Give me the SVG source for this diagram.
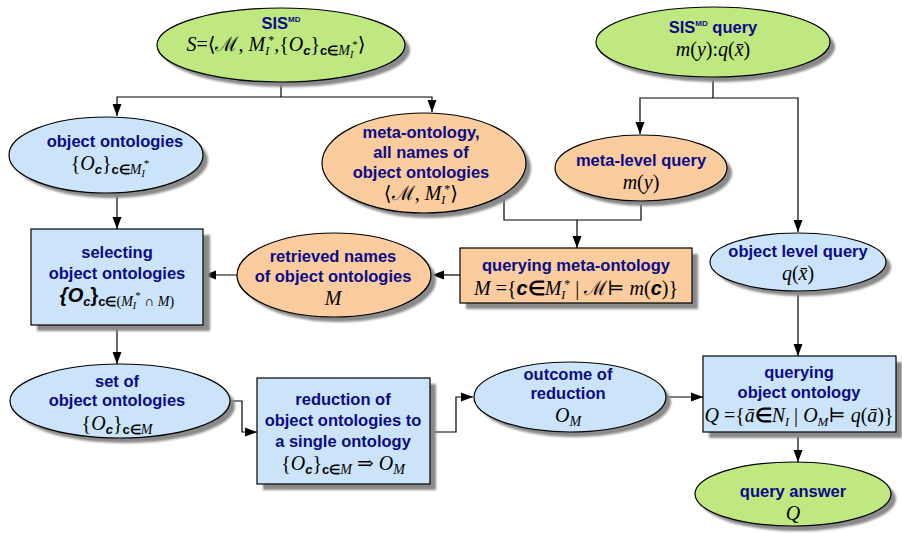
<svg xmlns="http://www.w3.org/2000/svg" width="902" height="533" viewBox="0 0 902 533">
<style>
.t{font-family:"Liberation Sans",Arial,sans-serif;font-weight:bold;font-size:16.5px;fill:#0b0b86;text-anchor:middle}
.m{font-family:"Liberation Serif","Times New Roman","DejaVu Serif",serif;font-style:italic;font-size:20px;fill:#000;text-anchor:middle}
.bs{font-family:"Liberation Sans",Arial,sans-serif;font-weight:bold}
.up{font-style:normal}
.g{fill:#bfe880;stroke:#000;stroke-width:1.2}
.b{fill:#cce4fa;stroke:#000;stroke-width:1.2}
.o{fill:#facc9e;stroke:#000;stroke-width:1.2}
.sh{fill:#8a8a8a;stroke:none}
.c{fill:none;stroke:#000;stroke-width:1.2}
</style>
<defs>
<marker id="ah" viewBox="0 0 12 10" refX="12" refY="5" markerWidth="12" markerHeight="10" markerUnits="userSpaceOnUse" orient="auto"><path d="M0,0.5 L12,5 L0,9.5 z" fill="#000"/></marker>
<filter id="bl" x="-10%" y="-10%" width="120%" height="120%"><feGaussianBlur stdDeviation="1"/></filter>
</defs>

<g id="connectors">
<path class="c" d="M281,83 V97"/>
<path class="c" d="M281,97 H117 V116" marker-end="url(#ah)"/>
<path class="c" d="M281,97 H432 V112" marker-end="url(#ah)"/>
<path class="c" d="M713,77 V98"/>
<path class="c" d="M713,98 H640 V134" marker-end="url(#ah)"/>
<path class="c" d="M713,98 H798 V232" marker-end="url(#ah)"/>
<path class="c" d="M117,193 V229" marker-end="url(#ah)"/>
<path class="c" d="M504,196 V220 H641 V201"/>
<path class="c" d="M577,220 V248" marker-end="url(#ah)"/>
<path class="c" d="M460,275 H432" marker-end="url(#ah)"/>
<path class="c" d="M237,275 H204" marker-end="url(#ah)"/>
<path class="c" d="M117,325 V364" marker-end="url(#ah)"/>
<path class="c" d="M229,401 H242 V432 H257" marker-end="url(#ah)"/>
<path class="c" d="M430,432 H456 V397 H473" marker-end="url(#ah)"/>
<path class="c" d="M666,397 H703" marker-end="url(#ah)"/>
<path class="c" d="M798,290 V356" marker-end="url(#ah)"/>
<path class="c" d="M798,432 V462" marker-end="url(#ah)"/>
</g>

<g id="sis">
<ellipse class="sh" cx="286" cy="50" rx="124" ry="37" filter="url(#bl)"/>
<ellipse class="g" cx="281" cy="45" rx="124" ry="37"/>
<text class="t" x="281" y="29" font-size="17">SIS<tspan font-size="8" baseline-shift="7">MD</tspan></text>
<text class="m" x="276" y="51">S<tspan class="up">=⟨</tspan><tspan class="up" font-family="DejaVu Serif">ℳ</tspan><tspan class="up">, </tspan>M<tspan font-size="12" baseline-shift="-4">I</tspan><tspan class="up" font-size="12" baseline-shift="7" dx="-1">*</tspan><tspan class="up">,{</tspan>O<tspan class="bs" font-size="13" baseline-shift="-4">c</tspan><tspan class="up">}</tspan><tspan class="bs up" font-size="13" baseline-shift="-4">c∈</tspan><tspan font-size="14" baseline-shift="-4">M</tspan><tspan font-size="10" baseline-shift="-7">I</tspan><tspan class="up" font-size="11" baseline-shift="3" dx="-1">*</tspan><tspan class="up">⟩</tspan></text>
</g>

<g id="sisquery">
<ellipse class="sh" cx="718" cy="47" rx="117" ry="35" filter="url(#bl)"/>
<ellipse class="g" cx="713" cy="42" rx="117" ry="35"/>
<text class="t" x="713" y="33" font-size="17">SIS<tspan font-size="8" baseline-shift="7">MD</tspan> query</text>
<text class="m" x="713" y="56">m<tspan class="up">(</tspan>y<tspan class="up">):</tspan>q<tspan class="up">(</tspan>x̄<tspan class="up">)</tspan></text>
</g>

<g id="objont">
<ellipse class="sh" cx="111" cy="160" rx="97" ry="38" filter="url(#bl)"/>
<ellipse class="b" cx="106" cy="155" rx="97" ry="38"/>
<text class="t" x="115" y="147">object ontologies</text>
<text class="m" x="110" y="170"><tspan class="up">{</tspan>O<tspan class="bs" font-size="13" baseline-shift="-4">c</tspan><tspan class="up">}</tspan><tspan class="bs up" font-size="13" baseline-shift="-4">c∈</tspan><tspan font-size="14" baseline-shift="-4">M</tspan><tspan font-size="10" baseline-shift="-7">I</tspan><tspan class="up" font-size="11" baseline-shift="3" dx="-1">*</tspan></text>
</g>

<g id="metaont">
<ellipse class="sh" cx="429" cy="168" rx="102" ry="50" filter="url(#bl)"/>
<ellipse class="o" cx="424" cy="163" rx="102" ry="50"/>
<text class="t" x="421" y="138">meta-ontology,</text>
<text class="t" x="421" y="158">all names of</text>
<text class="t" x="421" y="178">object ontologies</text>
<text class="m" x="421" y="200"><tspan class="up">⟨</tspan><tspan class="up" font-family="DejaVu Serif">ℳ</tspan><tspan class="up">, </tspan>M<tspan font-size="12" baseline-shift="-4">I</tspan><tspan class="up" font-size="12" baseline-shift="7" dx="-1">*</tspan><tspan class="up">⟩</tspan></text>
</g>

<g id="metaquery">
<ellipse class="sh" cx="646" cy="173" rx="86" ry="33" filter="url(#bl)"/>
<ellipse class="o" cx="641" cy="168" rx="86" ry="33"/>
<text class="t" x="641" y="166">meta-level query</text>
<text class="m" x="641" y="189">m<tspan class="up">(</tspan>y<tspan class="up">)</tspan></text>
</g>

<g id="selecting">
<rect class="sh" x="37" y="235" width="173" height="96" filter="url(#bl)"/>
<rect class="b" x="31" y="229" width="172" height="96"/>
<text class="t" x="117" y="258">selecting</text>
<text class="t" x="117" y="279">object ontologies</text>
<text class="m" x="117" y="302"><tspan class="bs">{O</tspan><tspan class="bs" font-size="13" baseline-shift="-4">c</tspan><tspan class="bs up">}</tspan><tspan class="bs up" font-size="13" baseline-shift="-4">c∈</tspan><tspan class="up" font-size="14" baseline-shift="-4">(</tspan><tspan font-size="14" baseline-shift="-4">M</tspan><tspan font-size="10" baseline-shift="-7">I</tspan><tspan class="up" font-size="11" baseline-shift="3" dx="-1">*</tspan><tspan class="up" font-size="14" baseline-shift="-4"> ∩ </tspan><tspan font-size="14" baseline-shift="-4">M</tspan><tspan class="up" font-size="14" baseline-shift="-4">)</tspan></text>
</g>

<g id="retrieved">
<ellipse class="sh" cx="339" cy="280" rx="97" ry="42" filter="url(#bl)"/>
<ellipse class="o" cx="334" cy="275" rx="97" ry="42"/>
<text class="t" x="333" y="262">retrieved names</text>
<text class="t" x="333" y="282">of object ontologies</text>
<text class="m" x="333" y="305">M</text>
</g>

<g id="querymeta">
<rect class="sh" x="466" y="254" width="232" height="55" filter="url(#bl)"/>
<rect class="o" x="460" y="248" width="232" height="55"/>
<text class="t" x="576" y="271">querying meta-ontology</text>
<text class="m" x="576" y="295">M<tspan class="up"> ={</tspan><tspan class="bs">c</tspan><tspan class="bs up">∈</tspan>M<tspan font-size="12" baseline-shift="-4">I</tspan><tspan class="up" font-size="12" baseline-shift="7" dx="-1">*</tspan><tspan class="up"> | </tspan><tspan class="up" font-family="DejaVu Serif">ℳ</tspan><tspan class="up">⊨ </tspan>m<tspan class="up">(</tspan><tspan class="bs">c</tspan><tspan class="up">)}</tspan></text>
</g>

<g id="objquery">
<ellipse class="sh" cx="803" cy="267" rx="88" ry="29" filter="url(#bl)"/>
<ellipse class="b" cx="798" cy="262" rx="88" ry="29"/>
<text class="t" x="798" y="257">object level query</text>
<text class="m" x="798" y="280">q<tspan class="up">(</tspan>x̄<tspan class="up">)</tspan></text>
</g>

<g id="setof">
<ellipse class="sh" cx="125" cy="406" rx="110" ry="37" filter="url(#bl)"/>
<ellipse class="b" cx="120" cy="401" rx="110" ry="37"/>
<text class="t" x="117" y="387">set of</text>
<text class="t" x="117" y="406">object ontologies</text>
<text class="m" x="117" y="430"><tspan class="up">{</tspan>O<tspan class="bs" font-size="13" baseline-shift="-4">c</tspan><tspan class="up">}</tspan><tspan class="bs up" font-size="13" baseline-shift="-4">c∈</tspan><tspan font-size="14" baseline-shift="-4">M</tspan></text>
</g>

<g id="reduction">
<rect class="sh" x="263" y="384" width="173" height="106" filter="url(#bl)"/>
<rect class="b" x="257" y="378" width="173" height="106"/>
<text class="t" x="343" y="405">reduction of</text>
<text class="t" x="343" y="426">object ontologies to</text>
<text class="t" x="343" y="447">a single ontology</text>
<text class="m" x="343" y="470"><tspan class="up">{</tspan>O<tspan class="bs" font-size="13" baseline-shift="-4">c</tspan><tspan class="up">}</tspan><tspan class="bs up" font-size="13" baseline-shift="-4">c∈</tspan><tspan font-size="14" baseline-shift="-4">M</tspan><tspan class="up"> ⇒ </tspan>O<tspan font-size="14" baseline-shift="-4">M</tspan></text>
</g>

<g id="outcome">
<ellipse class="sh" cx="575" cy="402" rx="96" ry="35" filter="url(#bl)"/>
<ellipse class="b" cx="570" cy="397" rx="96" ry="35"/>
<text class="t" x="568" y="380">outcome of</text>
<text class="t" x="568" y="399">reduction</text>
<text class="m" x="568" y="422">O<tspan font-size="14" baseline-shift="-4">M</tspan></text>
</g>

<g id="queryobj">
<rect class="sh" x="709" y="362" width="193" height="76" filter="url(#bl)"/>
<rect class="b" x="703" y="356" width="193" height="76"/>
<text class="t" x="799" y="378">querying</text>
<text class="t" x="799" y="398">object ontology</text>
<text class="m" x="799" y="422">Q<tspan class="up"> ={</tspan>ā<tspan class="bs up">∈</tspan>N<tspan font-size="12" baseline-shift="-4">I</tspan><tspan class="up"> | </tspan>O<tspan font-size="13" baseline-shift="-4">M</tspan><tspan class="up">⊨ </tspan>q<tspan class="up">(</tspan>ā<tspan class="up">)}</tspan></text>
</g>

<g id="answer">
<ellipse class="sh" cx="798" cy="499" rx="98" ry="32" filter="url(#bl)"/>
<ellipse class="g" cx="793" cy="494" rx="98" ry="32"/>
<text class="t" x="793" y="497" font-size="17">query answer</text>
<text class="m" x="793" y="520">Q</text>
</g>
</svg>
